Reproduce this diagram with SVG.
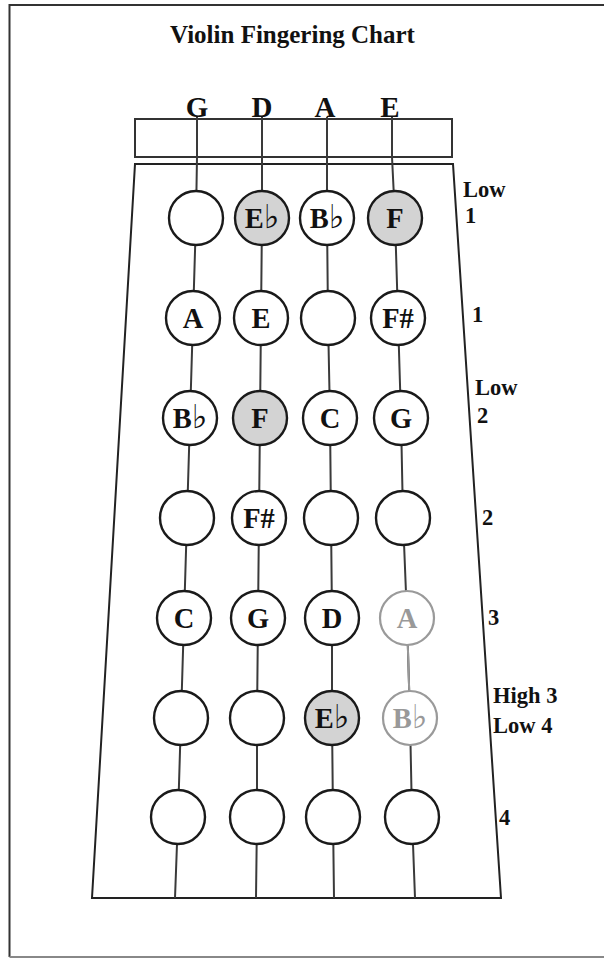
<svg xmlns="http://www.w3.org/2000/svg" width="604" height="958" viewBox="0 0 604 958">
<style>
.t{font-family:"Liberation Serif","Times New Roman",serif;font-weight:bold;fill:#111}
.n{font-family:"Liberation Serif","Times New Roman",serif;font-weight:bold;font-size:28.5px;fill:#111;text-anchor:middle}
.fl{font-family:"DejaVu Sans",sans-serif;font-weight:normal;font-size:33px}
.c{fill:#fff;stroke:#1a1a1a;stroke-width:2.4}
.g{fill:#d3d3d3;stroke:#1a1a1a;stroke-width:2.4}
.lc{fill:#fff;stroke:#9a9a9a;stroke-width:2.2}
.lt{fill:#999}
.s{fill:none;stroke:#3a3a3a;stroke-width:2}
.lbl{font-family:"Liberation Serif","Times New Roman",serif;font-weight:bold;font-size:22.5px;fill:#111}
</style>
<rect x="0" y="0" width="604" height="958" fill="#fff"/>
<path d="M604,5 H9.5 V957" fill="none" stroke="#333" stroke-width="2"/>
<path d="M9.5,957 H604" fill="none" stroke="#888" stroke-width="2"/>
<text class="t" x="292.5" y="43" font-size="25" text-anchor="middle">Violin Fingering Chart</text>
<g id="strings-labels">
<text class="t" x="197" y="117" font-size="29" text-anchor="middle">G</text>
<text class="t" x="262" y="117" font-size="29" text-anchor="middle">D</text>
<text class="t" x="325" y="117" font-size="29" text-anchor="middle">A</text>
<text class="t" x="390" y="117" font-size="29" text-anchor="middle">E</text>
</g>
<g id="nut"><rect x="135" y="119" width="317" height="38" fill="#fff" stroke="#333" stroke-width="2"/></g>
<g id="fingerboard"><polygon points="135,164 453,164 501,898 92,898" fill="#fff" stroke="#222" stroke-width="2"/></g>
<g id="connectors">
<polyline class="s" points="197,117 197,157 196,218 193,318 190,418 187,518 184,618 181,718 178,817 175,898"/>
<polyline class="s" points="262,117 262,157 262,218 261,318 260,418 259,518 258,618 257,718 257,817 256,898"/>
<polyline class="s" points="327,117 327,157 327,218 328,318 330,418 331,518 332,618 332,718 333,817 334,898"/>
<polyline class="s" points="392,117 392,157 395,218 398,318 401,418 403,518 407,618 410,718 412,817 415,898"/>
<line x1="407" y1="618" x2="410" y2="718" stroke="#999" stroke-width="2"/>
</g>
<g id="row1">
<g id="r1-G"><circle class="c" cx="196" cy="218" r="27"/></g>
<g id="r1-D"><circle class="g" cx="262" cy="218" r="27"/><text class="n" x="262" y="228">E<tspan class="fl">♭</tspan></text></g>
<g id="r1-A"><circle class="c" cx="327" cy="218" r="27"/><text class="n" x="327" y="228">B<tspan class="fl">♭</tspan></text></g>
<g id="r1-E"><circle class="g" cx="395" cy="218" r="27"/><text class="n" x="395" y="228">F</text></g>
</g>
<g id="row2">
<g id="r2-G"><circle class="c" cx="193" cy="318" r="27"/><text class="n" x="193" y="328">A</text></g>
<g id="r2-D"><circle class="c" cx="261" cy="318" r="27"/><text class="n" x="261" y="328">E</text></g>
<g id="r2-A"><circle class="c" cx="328" cy="318" r="27"/></g>
<g id="r2-E"><circle class="c" cx="398" cy="318" r="27"/><text class="n" x="398" y="328">F#</text></g>
</g>
<g id="row3">
<g id="r3-G"><circle class="c" cx="190" cy="418" r="27"/><text class="n" x="190" y="428">B<tspan class="fl">♭</tspan></text></g>
<g id="r3-D"><circle class="g" cx="260" cy="418" r="27"/><text class="n" x="260" y="428">F</text></g>
<g id="r3-A"><circle class="c" cx="330" cy="418" r="27"/><text class="n" x="330" y="428">C</text></g>
<g id="r3-E"><circle class="c" cx="401" cy="418" r="27"/><text class="n" x="401" y="428">G</text></g>
</g>
<g id="row4">
<g id="r4-G"><circle class="c" cx="187" cy="518" r="27"/></g>
<g id="r4-D"><circle class="c" cx="259" cy="518" r="27"/><text class="n" x="259" y="528">F#</text></g>
<g id="r4-A"><circle class="c" cx="331" cy="518" r="27"/></g>
<g id="r4-E"><circle class="c" cx="403" cy="518" r="27"/></g>
</g>
<g id="row5">
<g id="r5-G"><circle class="c" cx="184" cy="618" r="27"/><text class="n" x="184" y="628">C</text></g>
<g id="r5-D"><circle class="c" cx="258" cy="618" r="27"/><text class="n" x="258" y="628">G</text></g>
<g id="r5-A"><circle class="c" cx="332" cy="618" r="27"/><text class="n" x="332" y="628">D</text></g>
<g id="r5-E"><circle class="lc" cx="407" cy="618" r="27"/><text class="n lt" x="407" y="628">A</text></g>
</g>
<g id="row6">
<g id="r6-G"><circle class="c" cx="181" cy="718" r="27"/></g>
<g id="r6-D"><circle class="c" cx="257" cy="718" r="27"/></g>
<g id="r6-A"><circle class="g" cx="332" cy="718" r="27"/><text class="n" x="332" y="728">E<tspan class="fl">♭</tspan></text></g>
<g id="r6-E"><circle class="lc" cx="410" cy="718" r="27"/><text class="n lt" x="410" y="728">B<tspan class="fl">♭</tspan></text></g>
</g>
<g id="row7">
<g id="r7-G"><circle class="c" cx="178" cy="817" r="27"/></g>
<g id="r7-D"><circle class="c" cx="257" cy="817" r="27"/></g>
<g id="r7-A"><circle class="c" cx="333" cy="817" r="27"/></g>
<g id="r7-E"><circle class="c" cx="412" cy="817" r="27"/></g>
</g>
<g id="finger-labels">
<text class="lbl" x="463" y="197">Low</text>
<text class="lbl" x="465" y="223">1</text>
<text class="lbl" x="472" y="322">1</text>
<text class="lbl" x="475" y="395">Low</text>
<text class="lbl" x="477" y="423">2</text>
<text class="lbl" x="482" y="525">2</text>
<text class="lbl" x="488" y="625">3</text>
<text class="lbl" x="493" y="703">High 3</text>
<text class="lbl" x="493" y="733">Low 4</text>
<text class="lbl" x="499" y="825">4</text>
</g>
</svg>
